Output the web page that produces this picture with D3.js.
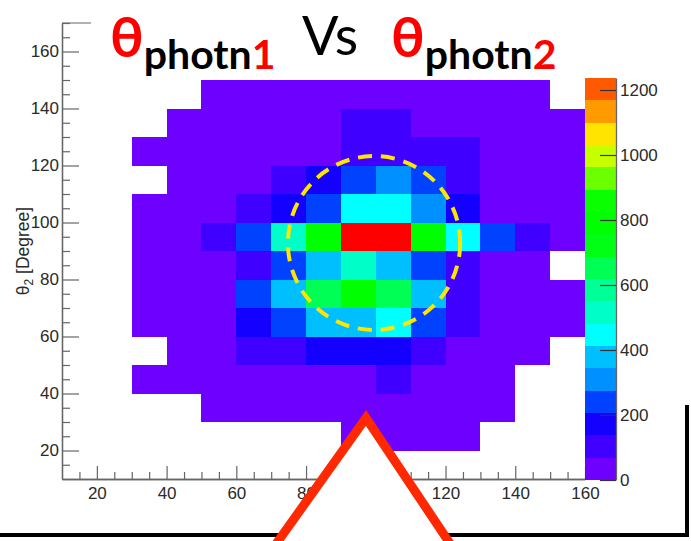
<!DOCTYPE html>
<html>
<head>
<meta charset="utf-8">
<script src="https://cdn.jsdelivr.net/npm/d3@7/dist/d3.min.js"></script>
<style>
  html, body { margin: 0; padding: 0; background: #fff; }
  svg { display: block; }
</style>
</head>
<body>
<svg id="chart" width="691" height="541"></svg>
<script>
// Lower edges (degrees) of the 10-degree bins along theta_1 (x) and theta_2 (y)
const xBinLow = [30, 40, 50, 60, 70, 80, 90, 100, 110, 120, 130, 140, 150];
const yBinLow = [140, 130, 120, 110, 100, 90, 80, 70, 60, 50, 40, 30, 20];
const binWidth = 10;

// Entries per bin, one row per theta_2 bin (top to bottom), null = empty bin
const counts = [
  [null, null,   18,   26,   31,   35,   40,   42,   38,   30,   24,   15, null],
  [null,   14,   25,   33,   41,   50,   95,   92,   55,   40,   30,   22,   12],
  [  11,   20,   32,   44,   55,   63,   98,  104,   92,   84,   50,   33,   16],
  [null,   18,   35,   50,   95,  160,  235,  300,  228,   90,   55,   35,   15],
  [  12,   27,   45,  100,  170,  248,  440,  452,  310,  165,   60,   38,   14],
  [  16,   40,  102,  245,  515,  780, 1260, 1255,  770,  450,  240,   96,   20],
  [  14,   30,   55,   98,  238,  378,  520,  385,  232,   92,   50,   25, null],
  [  12,   28,   50,  240,  372,  640,  760,  650,  380,   96,   48,   30,   10],
  [  10,   25,   47,  168,  242,  375,  382,  448,  236,   92,   45,   22,    8],
  [null,   16,   38,   97,  102,  165,  172,  168,   94,   52,   30,   12, null],
  [   8,   15,   30,   42,   55,   60,   64,  100,   58,   40,   25, null, null],
  [null, null,   12,   20,   30,   38,   45,   47,   40,   28,   14, null, null],
  [null, null, null, null, null, null,   10,   16,   14,    8, null, null, null]
];

// Tick values
const xTicks = [20, 40, 60, 80, 100, 120, 140, 160];
const yTicks = [20, 40, 60, 80, 100, 120, 140, 160];
const zTicks = [0, 200, 400, 600, 800, 1000, 1200];

// Colour palette (low to high) and colour used above the palette maximum
const paletteColors = [
  "#6e00ff", "#3f00ff", "#1400ff", "#0042ff", "#0090ff", "#00bfff",
  "#00ffff", "#00ffc8", "#00ff96", "#00ff55", "#00ff14", "#00ff00",
  "#0aff00", "#6cff00", "#c8ff00", "#ffe400", "#ff9a00", "#ff5a00"
];
const overflowColor = "#ff0000";
const zMax = 1237;

// Ellipse marking the signal region (centre and half-widths in degrees)
const regionCenter = [99.5, 92.8];
const regionHalfWidth = [24.7, 30.5];

const svg = d3.select("#chart");
const axisFont = "'Liberation Sans', Arial, Helvetica, sans-serif";
const axisColor = "#666";
const labelColor = "#2a2a2a";

const x = d3.scaleLinear().domain([10, 160]).range([62, 585]);
const y = d3.scaleLinear().domain([10, 170]).range([479, 23]);
const z = d3.scaleLinear().domain([0, 1200]).range([480, 90]);

const bandWidth = zMax / paletteColors.length;
const thresholds = d3.range(1, paletteColors.length + 1).map(i => i * bandWidth);
const color = d3.scaleThreshold().domain(thresholds).range([...paletteColors, overflowColor]);

// ---- histogram cells ----
const cells = [];
yBinLow.forEach((yl, r) => {
  xBinLow.forEach((xl, c) => {
    const v = counts[r][c];
    if (v !== null) cells.push({ xl, yl, v });
  });
});

svg.append("g")
  .attr("shape-rendering", "crispEdges")
  .selectAll("rect")
  .data(cells)
  .join("rect")
  .attr("x", d => x(d.xl))
  .attr("y", d => y(d.yl + binWidth))
  .attr("width", d => x(d.xl + binWidth) - x(d.xl))
  .attr("height", d => y(d.yl) - y(d.yl + binWidth))
  .attr("fill", d => color(d.v));

// ---- frame top edge ----
svg.append("line")
  .attr("x1", x(10)).attr("x2", x(160))
  .attr("y1", y(170)).attr("y2", y(170))
  .attr("stroke", axisColor).attr("stroke-width", 1.2);

// ---- axes ----
function styleAxis(g) {
  g.select(".domain").attr("stroke", axisColor).attr("stroke-width", 1.3);
  g.selectAll(".tick line").attr("stroke", axisColor).attr("stroke-width", 1.2);
  g.selectAll(".tick text")
    .attr("fill", labelColor)
    .style("font-family", axisFont)
    .style("font-size", "17px");
}

const xMinor = d3.range(15, 160, 5).filter(v => !xTicks.includes(v));
const yMinor = d3.range(15, 171, 5).filter(v => !yTicks.includes(v));

svg.append("g")
  .attr("transform", `translate(0,${y(10)})`)
  .call(d3.axisBottom(x).tickValues(xMinor).tickSize(-7).tickSizeOuter(0).tickFormat(""))
  .call(styleAxis);
svg.append("g")
  .attr("transform", `translate(0,${y(10)})`)
  .call(d3.axisBottom(x).tickValues(xTicks).tickSize(-13).tickSizeOuter(0).tickPadding(8))
  .call(styleAxis);

svg.append("g")
  .attr("transform", `translate(${x(10)},0)`)
  .call(d3.axisLeft(y).tickValues(yMinor).tickSize(-8).tickSizeOuter(0).tickFormat(""))
  .call(styleAxis);
svg.append("g")
  .attr("transform", `translate(${x(10)},0)`)
  .call(d3.axisLeft(y).tickValues(yTicks).tickSize(-17).tickSizeOuter(0).tickPadding(3))
  .call(styleAxis);

// y-axis title
const yTitle = svg.append("text")
  .attr("transform", `translate(29,251) rotate(-90)`)
  .attr("text-anchor", "middle")
  .attr("fill", labelColor)
  .style("font-family", axisFont)
  .style("font-size", "17.5px");
yTitle.append("tspan").text("θ");
yTitle.append("tspan").attr("font-size", "12px").attr("dy", "4").text("2");
yTitle.append("tspan").attr("dy", "-4").text(" [Degree]");

// ---- colour bar ----
const barLeft = x(160);
const barRight = 616;
svg.append("g")
  .attr("shape-rendering", "crispEdges")
  .selectAll("rect")
  .data(paletteColors.map((c, i) => ({ c, lo: i * bandWidth, hi: (i + 1) * bandWidth })))
  .join("rect")
  .attr("x", barLeft)
  .attr("width", barRight - barLeft)
  .attr("y", d => z(d.hi))
  .attr("height", d => z(d.lo) - z(d.hi))
  .attr("fill", d => d.c);

const zAxisScale = z.copy().domain([0, zMax]).range([z(0), z(zMax)]);
svg.append("g")
  .attr("transform", `translate(${barRight},0)`)
  .call(d3.axisRight(zAxisScale).tickValues(zTicks).tickFormat(d3.format("d"))
    .tickSize(-16).tickSizeOuter(0).tickPadding(4))
  .call(styleAxis)
  .call(g => g.selectAll(".tick line").attr("stroke", "#333"));

// ---- highlighted region ----
svg.append("ellipse")
  .attr("cx", x(regionCenter[0]))
  .attr("cy", y(regionCenter[1]))
  .attr("rx", x(regionCenter[0] + regionHalfWidth[0]) - x(regionCenter[0]))
  .attr("ry", y(regionCenter[1]) - y(regionCenter[1] + regionHalfWidth[1]))
  .attr("fill", "none")
  .attr("stroke", "#ffe600")
  .attr("stroke-width", 4)
  .attr("stroke-dasharray", "14 9");

// ---- title ----
svg.append("rect")
  .attr("x", 91).attr("y", 0).attr("width", 600).attr("height", 78)
  .attr("fill", "#fff");

const titleFont = "Lato, 'Open Sans', 'Noto Sans', sans-serif";
const titleGroups = [
  { x: 110, parts: [
    { t: "θ", size: 56, weight: 700, fill: "#ff0000", dy: 57 },
    { t: "photn", size: 41, weight: 700, fill: "#000", dy: 69 },
    { t: "1", size: 41, weight: 700, fill: "#ff0000", dy: 69 }
  ]},
  { x: 302, parts: [
    { t: "Vs", size: 54, weight: 400, fill: "#000", dy: 55 }
  ]},
  { x: 391, parts: [
    { t: "θ", size: 56, weight: 700, fill: "#ff0000", dy: 57 },
    { t: "photn", size: 41, weight: 700, fill: "#000", dy: 69 },
    { t: "2", size: 41, weight: 700, fill: "#ff0000", dy: 69 }
  ]}
];
titleGroups.forEach(g => {
  const t = svg.append("text")
    .attr("x", g.x)
    .style("font-family", titleFont);
  g.parts.forEach(p => {
    t.append("tspan")
      .attr("y", p.dy)
      .attr("fill", p.fill)
      .style("font-size", p.size + "px")
      .style("font-weight", p.weight)
      .text(p.t);
  });
});

// ---- border strokes at the lower right ----
svg.append("rect").attr("x", 0).attr("y", 533).attr("width", 689).attr("height", 4).attr("fill", "#000");
svg.append("rect").attr("x", 685).attr("y", 405).attr("width", 4).attr("height", 132).attr("fill", "#000");

// ---- pointer triangle ----
svg.append("path")
  .attr("d", "M271,551 L366,418 L455,551")
  .attr("fill", "#fff")
  .attr("stroke", "#ff2800")
  .attr("stroke-width", 9)
  .attr("stroke-linejoin", "miter");
</script>
</body>
</html>
